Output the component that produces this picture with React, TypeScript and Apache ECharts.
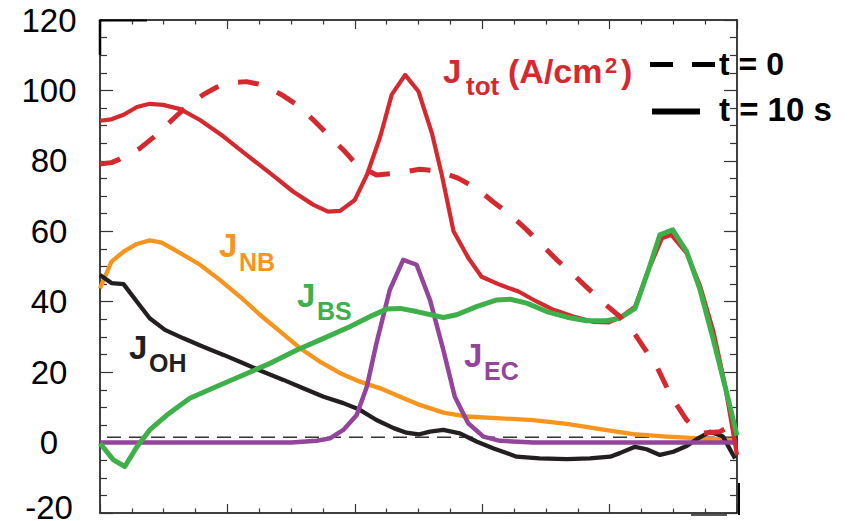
import React, { useEffect, useRef } from 'react';
import * as echarts from 'echarts';

// x = normalized radius (0..1), y = current density (A/cm^2)
const jtotT10: [number, number][] = [
  [0.0, 91.4], [0.018, 91.8], [0.037, 93.1], [0.058, 95.3], [0.078, 96.2], [0.099, 95.9],
  [0.126, 94.7], [0.157, 91.6], [0.194, 86.9], [0.23, 81.7], [0.267, 76.5], [0.303, 71.3],
  [0.335, 67.5], [0.358, 65.6], [0.377, 65.8], [0.4, 68.9], [0.419, 76.0], [0.44, 86.9],
  [0.458, 98.8], [0.479, 104.4], [0.5, 99.7], [0.521, 87.9], [0.536, 76.5], [0.555, 60.0],
  [0.578, 52.5], [0.599, 47.1], [0.628, 44.8], [0.657, 42.9], [0.686, 40.0], [0.712, 37.7],
  [0.743, 35.8], [0.774, 34.3], [0.798, 34.1], [0.819, 35.8], [0.84, 38.6], [0.861, 49.0],
  [0.882, 58.0], [0.897, 59.0], [0.921, 53.8], [0.942, 44.5], [0.963, 31.5], [0.981, 16.5],
  [1.0, -3.5],
];

const jtotT0: [number, number][] = [
  [0.0, 79.1], [0.018, 79.5], [0.031, 80.5], [0.063, 83.6], [0.089, 87.4], [0.113, 91.6],
  [0.136, 95.4], [0.162, 98.8], [0.183, 100.9], [0.204, 102.2], [0.23, 102.5], [0.254, 101.6],
  [0.285, 98.8], [0.309, 95.9], [0.335, 91.6], [0.358, 87.4], [0.382, 83.1], [0.403, 78.9],
  [0.434, 76.0], [0.466, 76.5], [0.502, 77.6], [0.529, 77.2], [0.562, 75.1], [0.591, 72.2],
  [0.617, 68.4], [0.644, 64.7], [0.67, 60.4], [0.691, 56.6], [0.717, 51.9], [0.738, 48.6],
  [0.785, 40.5], [0.816, 35.8], [0.837, 31.5], [0.853, 27.2], [0.874, 21.6], [0.897, 13.0],
  [0.921, 6.4], [0.942, 2.6], [0.973, 3.1], [0.997, 5.3],
];

const jbs: [number, number][] = [
  [0.0, -0.2], [0.021, -4.9], [0.039, -6.8], [0.058, -1.2], [0.078, 3.6], [0.105, 7.8],
  [0.141, 12.6], [0.183, 15.9], [0.225, 19.2], [0.267, 22.5], [0.309, 26.3], [0.351, 29.6],
  [0.392, 32.9], [0.429, 36.2], [0.45, 37.9], [0.471, 38.1], [0.497, 37.2], [0.539, 35.5],
  [0.56, 36.3], [0.591, 38.6], [0.623, 40.5], [0.644, 40.7], [0.67, 39.6], [0.701, 37.2],
  [0.733, 35.6], [0.764, 34.6], [0.795, 34.6], [0.816, 35.3], [0.84, 38.1], [0.861, 49.0],
  [0.879, 59.0], [0.899, 60.4], [0.921, 54.2], [0.942, 43.4], [0.963, 29.1], [0.984, 14.0],
  [1.0, 2.0],
];

const jnb: [number, number][] = [
  [0.0, 43.8], [0.018, 51.4], [0.037, 54.2], [0.058, 56.4], [0.078, 57.4], [0.097, 56.8],
  [0.126, 53.8], [0.157, 50.5], [0.188, 46.2], [0.22, 41.4], [0.251, 36.3], [0.283, 31.5],
  [0.314, 26.8], [0.345, 23.0], [0.377, 19.7], [0.408, 17.3], [0.44, 15.4], [0.471, 13.0],
  [0.502, 10.7], [0.539, 8.5], [0.576, 7.4], [0.628, 6.9], [0.68, 6.4], [0.733, 5.3],
  [0.785, 3.8], [0.837, 2.4], [0.89, 1.7], [0.942, 1.2], [0.995, 0.7],
];

const jec: [number, number][] = [
  [0.0, 0], [0.3, 0], [0.34, 0.5], [0.361, 1.2], [0.382, 3.6], [0.403, 7.8], [0.419, 15.9],
  [0.434, 28.2], [0.455, 43.4], [0.476, 51.9], [0.497, 50.5], [0.518, 40.5], [0.539, 26.3],
  [0.557, 13.0], [0.578, 5.5], [0.602, 1.7], [0.628, 0.5], [0.68, 0], [1.0, 0],
];

const joh: [number, number][] = [
  [0.0, 47.6], [0.018, 45.3], [0.037, 45.0], [0.058, 40.0], [0.078, 35.3], [0.102, 32.0],
  [0.131, 29.6], [0.162, 27.2], [0.194, 24.9], [0.225, 22.5], [0.256, 20.1], [0.288, 17.8],
  [0.319, 15.4], [0.351, 13.0], [0.382, 11.2], [0.408, 9.3], [0.434, 6.4], [0.461, 4.1],
  [0.481, 2.8], [0.5, 2.3], [0.518, 3.1], [0.539, 3.6], [0.565, 2.6], [0.591, 0.3],
  [0.617, -1.6], [0.654, -4.0], [0.69, -4.5], [0.733, -4.7], [0.769, -4.5], [0.801, -4.0],
  [0.816, -3.0], [0.84, -1.2], [0.858, -1.9], [0.879, -3.5], [0.9, -2.6], [0.921, -1.0],
  [0.939, 1.2], [0.958, 3.1], [0.978, 1.7], [0.997, -4.5],
];

const refLine: [number, number][] = [[0.011, 1.5], [1.009, 1.5]];

const yTickMin = -20;
const yTickMax = 120;
const yTickStep = 20;
const xMin = 0;
const xMax = 1;
const xStep = 0.2;

const RED = '#d42a2f';
const ORANGE = '#f7941e';
const GREEN = '#3db049';
const PURPLE = '#93449b';
const BLACK = '#231f20';
const FONT = '"Liberation Sans", Arial, Helvetica, sans-serif';

function txt(text: string, x: number, y: number, size: number, color: string, bold = true) {
  return {
    type: 'text',
    x,
    y,
    z: 10,
    style: {
      text,
      fill: color,
      fontSize: size,
      fontWeight: bold ? 'bold' : 'normal',
      fontFamily: FONT,
      align: 'left',
      verticalAlign: 'middle',
    },
  };
}

function seg(x1: number, y1: number, x2: number, y2: number, color: string, w: number, dash?: number[]) {
  return {
    type: 'line',
    z: 10,
    shape: { x1, y1, x2, y2 },
    style: { stroke: color, lineWidth: w, lineDash: dash },
  };
}

export default function App() {
  const ref = useRef<HTMLDivElement>(null);
  useEffect(() => {
    const chart = echarts.init(ref.current!, null, { renderer: 'svg' });
    const xAxisBase = {
      type: 'value',
      min: xMin,
      max: xMax,
      interval: xStep,
      axisLine: { show: true, onZero: false, lineStyle: { color: '#000', width: 1.5 } },
      axisTick: { show: true, inside: true, length: 9, lineStyle: { color: '#333', width: 1.2 } },
      minorTick: { show: true, splitNumber: 4, length: 4.5, lineStyle: { color: '#333', width: 1.2 } },
      axisLabel: { show: false },
      splitLine: { show: false },
      minorSplitLine: { show: false },
    };
    const yAxisBase = {
      type: 'value',
      min: yTickMin,
      max: yTickMax,
      interval: yTickStep,
      axisLine: { show: true, onZero: false, lineStyle: { color: '#000', width: 1.5 } },
      axisTick: { show: true, inside: true, length: 13, lineStyle: { color: '#333', width: 1.2 } },
      minorTick: { show: true, splitNumber: 4, length: 7, lineStyle: { color: '#333', width: 1.2 } },
      splitLine: { show: false },
      minorSplitLine: { show: false },
    };
    const lineSeries = (name: string, data: [number, number][], color: string, width: number, type: any = 'solid', extra: any = {}) => ({
      name,
      type: 'line',
      data,
      xAxisIndex: 0,
      yAxisIndex: 0,
      symbol: 'none',
      showSymbol: false,
      smooth: false,
      lineStyle: { color, width, type, cap: 'butt', join: 'round' },
      itemStyle: { color },
      emphasis: { disabled: true },
      ...extra,
    });
    chart.setOption({
      animation: false,
      backgroundColor: '#fff',
      grid: { left: 100, top: 20, width: 637, height: 493, containLabel: false, outerBoundsMode: 'none' },
      xAxis: [
        { ...xAxisBase, position: 'bottom' },
        { ...xAxisBase, position: 'top' },
      ],
      yAxis: [
        {
          ...yAxisBase,
          position: 'left',
          axisLabel: {
            show: true,
            color: '#000',
            fontSize: 33,
            fontFamily: FONT,
            align: 'center',
            margin: 51,
            formatter: (v: number) => (v === yTickMin ? '{low|' + v + '}' : String(v)),
            rich: {
              low: {
                color: '#000',
                fontSize: 33,
                fontFamily: FONT,
                padding: [0, 0, 12, 0],
              },
            },
          },
        },
        { ...yAxisBase, position: 'right', axisLabel: { show: false } },
      ],
      series: [
        lineSeries('ref', refLine, '#333', 1.5, [14, 8], { clip: false }),
        lineSeries('J_NB', jnb, ORANGE, 4.3),
        lineSeries('J_OH', joh, BLACK, 4.3),
        lineSeries('J_EC', jec, PURPLE, 4.5),
        lineSeries('J_tot t=10 s', jtotT10, RED, 4.2),
        lineSeries('J_BS', jbs, GREEN, 5),
        lineSeries('J_tot t=0', jtotT0, RED, 5, [21, 20]),
      ],
      graphic: [
        // Jtot label
        txt('J', 443, 71, 33, RED),
        txt('tot', 466, 86, 26, RED),
        txt('(A/cm', 508, 71, 34, RED),
        txt('2', 605, 65, 22, RED),
        txt(')', 621, 71, 34, RED),
        // legend
        seg(650, 64.5, 715, 64.5, '#000', 5, [23, 19]),
        txt('t = 0', 719, 64, 32, '#000'),
        seg(652, 111.5, 700, 111.5, '#000', 6),
        txt('t = 10 s', 719, 109, 33, '#000'),
        // component labels
        txt('J', 219, 245.5, 33, ORANGE),
        txt('NB', 239, 261.5, 25, ORANGE),
        txt('J', 297, 295, 33, GREEN),
        txt('BS', 317, 311, 25, GREEN),
        txt('J', 129, 347.5, 33, BLACK),
        txt('OH', 149, 362.5, 25, BLACK),
        txt('J', 464, 355, 33, PURPLE),
        txt('EC', 484, 371, 25, PURPLE),
        // corner marks
        seg(100, 20, 100, 55, '#000', 2.5),
        seg(100, 20.5, 147, 20.5, '#000', 2),
        seg(739, 483, 739, 515, '#000', 2),
        seg(691, 515, 727, 515, '#555', 2),
      ],
    });
    return () => chart.dispose();
  }, []);
  return (
    <div
      ref={ref}
      style={{ position: 'fixed', left: 0, top: 0, width: 858, height: 521, background: '#fff' }}
    />
  );
}
